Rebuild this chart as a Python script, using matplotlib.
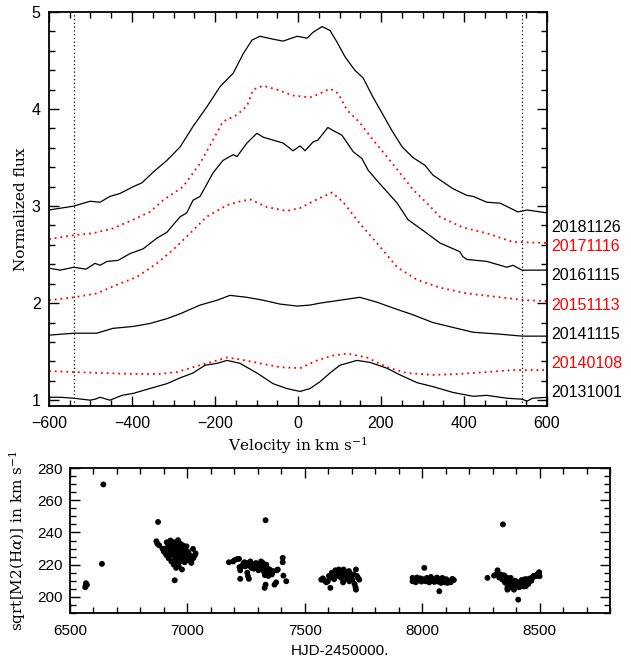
import matplotlib
matplotlib.use("Agg")
import matplotlib.pyplot as plt
from matplotlib.ticker import MultipleLocator
import matplotlib.transforms as mtransforms

# ---------------- profile data (velocity km/s, normalized flux) ----------------
v_20181126 = [-600,-540,-501,-477,-453,-429,-397,-376,-349,-316,-284,-253,-220,-188,-156,-132,-111,-92,-60,-36,-2,22,36,58,77,94,113,137,157,181,205,226,251,277,306,325,349,373,407,422,455,487,530,552,600]
f_20181126 = [2.96,3.0,3.05,3.04,3.1,3.13,3.2,3.24,3.35,3.47,3.61,3.82,4.02,4.23,4.37,4.57,4.71,4.75,4.72,4.70,4.75,4.73,4.79,4.85,4.81,4.69,4.54,4.40,4.32,4.12,3.94,3.78,3.61,3.50,3.42,3.32,3.25,3.18,3.11,3.10,3.04,3.03,2.94,2.96,2.93]

v_20171116 = [-600,-540,-494,-446,-397,-357,-325,-277,-236,-205,-181,-147,-123,-108,-84,-51,-12,29,53,77,97,118,149,181,214,246,277,311,342,397,455,518,600]
f_20171116 = [2.66,2.70,2.72,2.77,2.86,2.94,3.06,3.20,3.44,3.68,3.87,3.94,4.03,4.20,4.24,4.20,4.14,4.12,4.16,4.21,4.16,3.99,3.86,3.68,3.51,3.34,3.17,3.03,2.89,2.78,2.72,2.63,2.62]

v_20161115 = [-600,-573,-540,-511,-489,-477,-460,-434,-405,-373,-340,-316,-284,-268,-253,-236,-205,-181,-156,-147,-123,-99,-84,-60,-36,-12,5,17,36,48,72,84,106,133,154,169,193,214,239,265,301,342,390,397,407,455,503,518,540,600]
f_20161115 = [2.36,2.34,2.37,2.35,2.41,2.39,2.43,2.44,2.51,2.56,2.67,2.73,2.89,2.93,3.06,3.10,3.34,3.47,3.53,3.51,3.65,3.75,3.71,3.68,3.65,3.57,3.62,3.57,3.66,3.68,3.81,3.78,3.73,3.56,3.49,3.37,3.25,3.15,3.03,2.86,2.75,2.62,2.53,2.48,2.45,2.43,2.37,2.39,2.34,2.34]

v_20151113 = [-600,-540,-485,-436,-388,-340,-301,-260,-220,-171,-147,-116,-75,-27,5,46,82,109,149,190,239,287,342,407,487,552,600]
f_20151113 = [2.03,2.06,2.10,2.19,2.27,2.41,2.55,2.72,2.89,3.01,3.04,3.07,2.99,2.95,2.98,3.07,3.14,3.04,2.82,2.62,2.37,2.24,2.16,2.10,2.06,2.03,2.02]

v_20141115 = [-600,-540,-485,-446,-397,-357,-316,-284,-236,-195,-164,-123,-84,-43,-2,29,53,101,149,190,229,277,325,373,422,487,540,600]
f_20141115 = [1.67,1.69,1.69,1.74,1.76,1.79,1.84,1.89,1.98,2.03,2.08,2.06,2.03,1.99,1.97,1.98,2.0,2.03,2.06,2.01,1.95,1.88,1.80,1.75,1.70,1.68,1.66,1.66]

v_20140108 = [-600,-540,-477,-397,-333,-292,-253,-220,-171,-140,-92,-43,5,46,84,118,166,214,262,325,390,455,518,600]
f_20140108 = [1.30,1.29,1.28,1.27,1.27,1.29,1.34,1.38,1.44,1.42,1.38,1.34,1.33,1.41,1.46,1.48,1.44,1.34,1.28,1.26,1.27,1.29,1.31,1.31]

v_20131001 = [-600,-573,-540,-501,-489,-477,-453,-424,-397,-357,-316,-284,-253,-224,-195,-171,-140,-99,-60,-27,5,29,53,77,101,142,173,214,246,287,325,373,422,455,503,540,552,565,600]
f_20131001 = [1.03,1.03,1.02,1.00,1.01,1.03,1.00,1.05,1.07,1.12,1.17,1.23,1.28,1.36,1.38,1.41,1.38,1.28,1.17,1.12,1.09,1.12,1.19,1.28,1.36,1.41,1.39,1.33,1.26,1.18,1.14,1.08,1.04,1.05,1.02,1.01,0.99,1.02,1.03]

dates = ["20181126","20171116","20161115","20151113","20141115","20140108","20131001"]
date_colors = ["black","red","black","red","black","red","black"]
date_label_y = [2.78,2.58,2.28,1.98,1.68,1.38,1.08]
vlines_v = [-540, 540]

# ---------------- sqrt(M2) data ----------------
hjd_early = [6565,6568,6572,6567,6636,6642]
m2_early = [206,208.5,207.5,207,220.5,269.8]

hjd_2014 = [6875,6868,6872,6880,6894,6900,6905,6910,6912,6918,6920,6925,6928,6930,6932,6935,6938,6940,6942,6945,6946,6948,6950,6952,6953,6955,6957,6958,6960,6962,6963,6965,6967,6968,6970,6972,6973,6975,6977,6978,6980,6982,6984,6985,6987,6989,6990,6993,6996,6998,7000,7003,7006,7010,7015,7017,7024,7031,7035,7025]
m2_2014 = [246.5,234.5,233,232,229.8,228,230,226,233.9,231,224,228,235,232,222,226,230,234,220,228,210.3,224,231,218,226,233,222,229,235.2,225,219,231,227,222,233,228,224,230,217,226,232,222,228,225,230,221.5,227,224,231.4,226,223,228,224,226,222,221.1,229.8,225.6,227,224]

hjd_2015 = [7177,7195,7201,7212,7220,7222,7225,7225,7232,7238,7243,7247,7251,7255,7258,7262,7265,7268,7272,7276,7279,7283,7288,7292,7296,7300,7303,7307,7310,7314,7318,7321,7325,7327,7329,7330,7333,7333,7333,7336,7339,7342,7345,7350,7355,7360,7365,7371,7378,7381,7385,7406,7406,7409,7421]
m2_2015 = [221.5,222,222.8,223.5,223.6,218.5,216.5,211.2,219,220.5,221.5,219,221.1,215,212.8,211.2,219.5,222,218,220.5,220,217.5,219,221,218,220.5,216.5,220,218,222,217,221.1,219,215.5,205.6,213.5,218,207.6,247.6,220,214.9,217.5,213,217,215.5,214,216,207.6,209,216.5,217,224.2,221.5,213.2,209.7]

hjd_2016 = [7570,7577,7585,7592,7598,7603,7609,7612,7615,7619,7625,7630,7635,7640,7645,7648,7652,7655,7660,7663,7665,7669,7675,7680,7683,7688,7690,7694,7697,7702,7708,7712,7716,7718,7718,7722,7726,7732]
m2_2016 = [210.7,211.5,210,209,209.7,213,205.6,212,215,214.9,211,216.5,213,215.9,217,212.8,215,211.8,214,209,217,215.9,213,211,214.9,216,209.7,214,212.8,210.5,214,208,206,217,204.5,213,212,210.7]

hjd_2017 = [7959,7959,7965,7970,7973,7978,7983,7987,7992,7997,8002,8009,8012,8016,8020,8025,8030,8037,8042,8047,8052,8058,8063,8068,8073,8076,8080,8083,8086,8092,8097,8102,8108,8115,8122,8129,8135]
m2_2017 = [211.8,209.7,211,210,209.1,212,210.5,210.3,211.5,209.5,211,218,210,209.7,211.8,210.5,209,212.4,210,211,209.3,210.7,212,209.5,203.5,211,208.7,210,211.8,210.5,209,211,208.7,210,209.1,211.2,210.5]

hjd_2018 = [8278,8306,8315,8321,8328,8335,8342,8344,8349,8353,8356,8360,8363,8363,8368,8372,8377,8381,8384,8388,8391,8395,8398,8402,8405,8409,8413,8417,8420,8424,8427,8431,8434,8438,8441,8445,8448,8452,8455,8460,8465,8469,8475,8483,8490,8498,8500,8498]
m2_2018 = [211.8,213.2,214,216.5,212,213.9,210.7,245,213.4,209,208.7,212,205.6,204.5,210,207.5,211.8,209,205.6,208,204.5,210,207,209.5,207.6,198.3,206,209,207,210.5,209.7,206.5,208.5,211,206.6,209,211,208,209.7,211.5,210,211.8,213,212.8,214,215.3,212.8,214.9]

# ---------------- figure ----------------
plt.rcParams['mathtext.fontset'] = 'dejavuserif'
sans = 'Liberation Sans'
serif = 'DejaVu Serif'

fig = plt.figure(figsize=(6.31, 6.63), dpi=100)
ax1 = fig.add_axes([49/631, 1-406/663, 498/631, 394/663])
ax2 = fig.add_axes([70/631, 1-613/663, 540/631, 145/663])

profiles = [(v_20181126, f_20181126), (v_20171116, f_20171116), (v_20161115, f_20161115),
            (v_20151113, f_20151113), (v_20141115, f_20141115), (v_20140108, f_20140108),
            (v_20131001, f_20131001)]
for (v, f), c in zip(profiles, date_colors):
    if c == 'red':
        ax1.plot(v, f, color='red', lw=1.3, ls=(0, (1, 2.2)))
    else:
        ax1.plot(v, f, color='black', lw=0.9)

for xv in vlines_v:
    ax1.axvline(xv, color='black', lw=0.9, ls=(0, (1, 2)))

ax1.set_xlim(-600, 600)
ax1.set_ylim(0.94, 5)
ax1.xaxis.set_major_locator(MultipleLocator(200))
ax1.xaxis.set_minor_locator(MultipleLocator(50))
ax1.yaxis.set_major_locator(MultipleLocator(1))
ax1.yaxis.set_minor_locator(MultipleLocator(0.2))

trans = mtransforms.blended_transform_factory(ax1.transAxes, ax1.transData)
for d, c, y in zip(dates, date_colors, date_label_y):
    ax1.text(1.008, y, d, color=c, transform=trans, fontsize=11.5, family=sans,
             ha='left', va='center')

ax1.set_xlabel(r'Velocity in km s$^{-1}$', family=serif, fontsize=11, labelpad=3)
ax1.set_ylabel('Normalized flux', family=serif, fontsize=11)
ax1.yaxis.set_label_coords((28 - 49) / 498, 0.5)

for ax in (ax1, ax2):
    ax.tick_params(which='both', direction='in', top=True, right=True, width=1.0)
    ax.tick_params(which='major', length=7)
    ax.tick_params(which='minor', length=4)
    for s in ax.spines.values():
        s.set_linewidth(1.3)
ax1.tick_params(axis='x', labelsize=11.5, pad=7)
ax1.tick_params(axis='y', labelsize=11.5, pad=6)
for lab in ax1.get_xticklabels() + ax1.get_yticklabels():
    lab.set_family(sans)

# bottom panel
for xs, ys in [(hjd_early, m2_early), (hjd_2014, m2_2014), (hjd_2015, m2_2015),
               (hjd_2016, m2_2016), (hjd_2017, m2_2017), (hjd_2018, m2_2018)]:
    ax2.scatter(xs, ys, s=18, color='black', edgecolors='none')

ax2.set_xlim(6500, 8800)
ax2.set_ylim(190, 280)
ax2.xaxis.set_major_locator(MultipleLocator(500))
ax2.xaxis.set_minor_locator(MultipleLocator(100))
ax2.yaxis.set_major_locator(MultipleLocator(20))
ax2.yaxis.set_minor_locator(MultipleLocator(5))
ax2.tick_params(axis='x', labelsize=11, pad=8)
ax2.tick_params(axis='y', labelsize=11, pad=5)
for lab in ax2.get_xticklabels() + ax2.get_yticklabels():
    lab.set_family(sans)
ax2.set_xlabel('HJD-2450000.', family=sans, fontsize=11, labelpad=4)
ax2.set_ylabel(r'sqrt[M2(H$\alpha$)] in km s$^{-1}$', family=serif, fontsize=11)
ax2.yaxis.set_label_coords((28 - 70) / 540, 0.5)

fig.savefig('out.png', dpi=100)
